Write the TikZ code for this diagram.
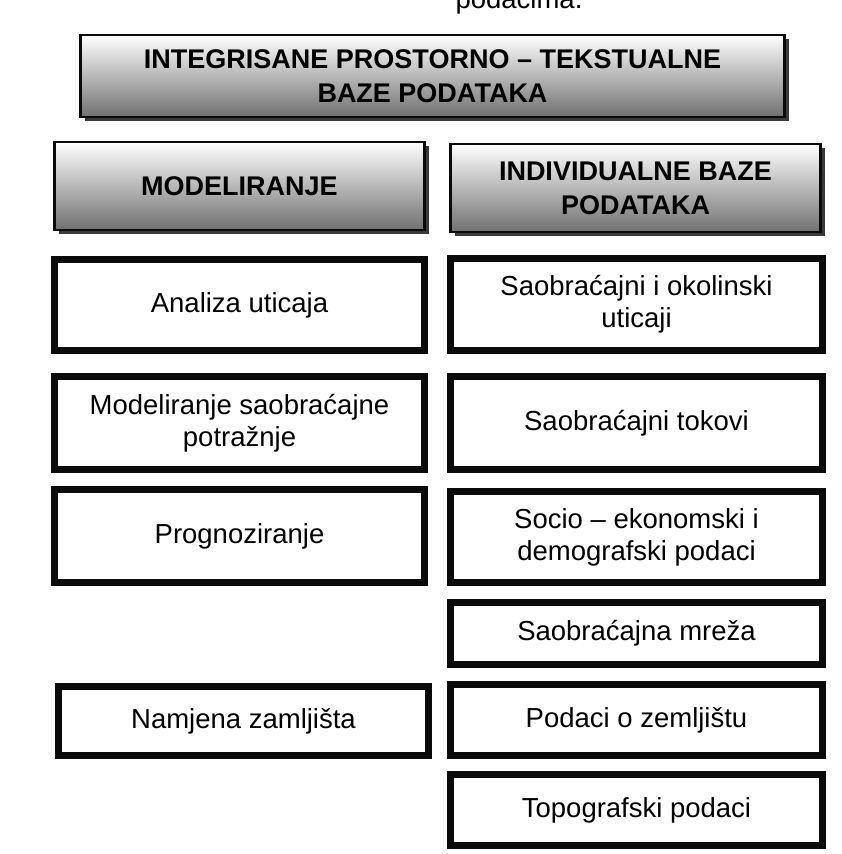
\documentclass[tikz,border=0pt]{standalone}
\usepackage{fontspec}
\setmainfont{Liberation Sans}
\usepackage{xcolor}
\usepackage{tikz}
\usetikzlibrary{shadows}
\definecolor{HeadTop}{HTML}{FFFFFF}
\definecolor{HeadMid}{HTML}{E4E4E4}
\definecolor{HeadBottom}{HTML}{707070}
\definecolor{HeadShadow}{HTML}{3A3A3A}
\definecolor{FrameLine}{HTML}{0A0A0A}
\newcommand{\headfont}{\fontsize{27}{34}\selectfont\bfseries}
\newcommand{\cellfont}{\fontsize{27.5}{32}\selectfont}
\tikzset{
  headbox/.style={draw=FrameLine, line width=2.5pt, top color=HeadTop, middle color=HeadMid,
    bottom color=HeadBottom, font=\headfont, align=center, inner sep=0pt,
    drop shadow={shadow xshift=4pt, shadow yshift=-4pt, fill=HeadShadow, opacity=1}},
  cellbox/.style={draw=FrameLine, line width=7pt, fill=white, font=\cellfont, align=center,
    inner sep=0pt, minimum width=372pt}
}

\begin{document}
\begin{tikzpicture}[x=1pt,y=-1pt]
  \useasboundingbox[fill=white] (0,0) rectangle (842,854);
  \node[anchor=base west, font=\cellfont] (caption) at (452,8) {podacima.}; % ostatak natpisa

  \node[headbox, minimum width=704pt, minimum height=82pt] (integr) at (432.5,76)
    {INTEGRISANE PROSTORNO -- TEKSTUALNE\\BAZE PODATAKA};
  \node[headbox, minimum width=370pt, minimum height=88pt] (model) at (239.5,186) {MODELIRANJE};
  \node[headbox, minimum width=370pt, minimum height=88pt] (indiv) at (635.5,188)
    {INDIVIDUALNE BAZE\\PODATAKA};

  \foreach \nm/\x/\y/\h/\txt in {
    analiza/239.5/305/91/{Analiza uticaja},
    potraz/239.5/423/93/{Modeliranje saobraćajne\\potražnje},
    progn/239.5/536/93/{Prognoziranje},
    namjena/243.5/721/69/{Namjena zamljišta}}{
    \node[cellbox, minimum width=370pt, minimum height=\h pt] (\nm) at (\x,\y) {\txt};
  }

  \foreach \nm/\y/\h/\txt in {
    okolina/304.5/92/{Saobraćajni i okolinski\\uticaji},
    tokovi/423/93/{Saobraćajni tokovi},
    socio/537/91/{Socio -- ekonomski i\\demografski podaci},
    mreza/633.5/62/{Saobraćajna mreža},
    zemlja/720/71/{Podaci o zemljištu},
    topo/810/71/{Topografski podaci}}{
    \node[cellbox, minimum height=\h pt] (\nm) at (636.5,\y) {\txt};
  }
\end{tikzpicture}
\end{document}
